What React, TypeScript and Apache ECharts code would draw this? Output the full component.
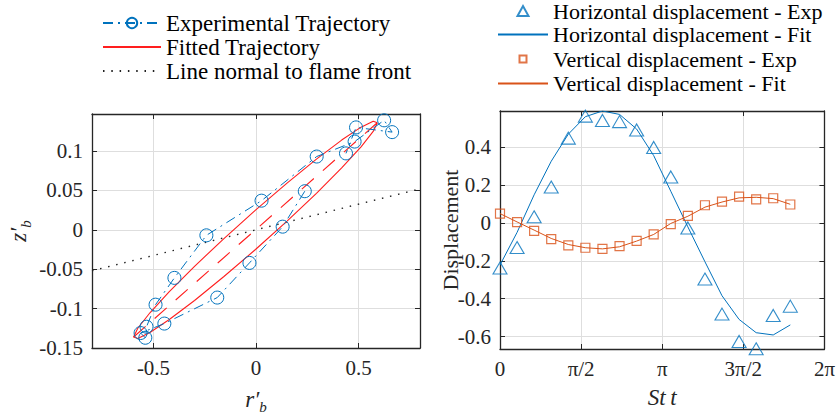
import React, { useEffect, useRef } from 'react';
import * as echarts from 'echarts';

// ---- Left panel data (r'_b, z'_b) ----
const trajR = [0.238, 0.13, -0.032, -0.189, -0.447, -0.563, -0.54, -0.534, -0.49, -0.398, -0.242, 0.027, 0.296, 0.481, 0.625, 0.664, 0.488, 0.439];
const trajZ = [0.049, 0.004, -0.042, -0.086, -0.119, -0.131, -0.137, -0.123, -0.095, -0.061, -0.007, 0.037, 0.093, 0.112, 0.139, 0.124, 0.13, 0.097];

const ellipseR = [0.592, 0.5717, 0.5124, 0.4179, 0.2948, 0.1514, -0.0025, -0.1564, -0.2998, -0.4229, -0.5174, -0.5767, -0.597, -0.5767, -0.5174, -0.4229, -0.2998, -0.1564, -0.0025, 0.1514, 0.2948, 0.4179, 0.5124, 0.5717, 0.592];
const ellipseZ = [0.136, 0.1379, 0.1303, 0.1139, 0.0897, 0.0593, 0.025, -0.0111, -0.0463, -0.0785, -0.1053, -0.1249, -0.136, -0.1379, -0.1303, -0.1139, -0.0897, -0.0593, -0.025, 0.0111, 0.0463, 0.0785, 0.1053, 0.1249, 0.136];

const majorR = [-0.597, 0.592];
const majorZ = [-0.136, 0.136];

const normalR = [-0.8, 0.8];
const normalZ = [-0.052, 0.052];

const leftXTicks = [-0.5, 0, 0.5];
const leftYLabels = [-0.15, -0.1, -0.05, 0, 0.05, 0.1];
const leftYTicks = [-0.1, -0.05, 0, 0.05, 0.1];

// ---- Right panel data (St t, displacement) ----
const stt = [0, 0.331, 0.661, 0.992, 1.323, 1.653, 1.984, 2.315, 2.646, 2.976, 3.307, 3.638, 3.969, 4.299, 4.63, 4.961, 5.291, 5.622];
const horizExp = [-0.238, -0.13, 0.032, 0.189, 0.447, 0.563, 0.54, 0.534, 0.49, 0.398, 0.242, -0.027, -0.296, -0.481, -0.625, -0.664, -0.488, -0.439];
const horizFit = [-0.222, -0.05, 0.148, 0.325, 0.468, 0.56, 0.59, 0.572, 0.495, 0.355, 0.167, -0.021, -0.205, -0.384, -0.509, -0.579, -0.591, -0.538];
const vertExp = [0.049, 0.004, -0.042, -0.086, -0.119, -0.131, -0.137, -0.123, -0.095, -0.061, -0.007, 0.037, 0.093, 0.112, 0.139, 0.124, 0.13, 0.097];
const vertFit = [0.049, 0.005, -0.038, -0.082, -0.114, -0.131, -0.137, -0.126, -0.096, -0.061, -0.003, 0.035, 0.083, 0.11, 0.132, 0.135, 0.128, 0.098];

const PI = Math.PI;
const rightXLabelValues = [0, PI / 2, PI, (3 * PI) / 2, 2 * PI];
const rightXLabelTexts = ['0', 'π/2', 'π', '3π/2', '2π'];
const rightXTicks = [PI / 2, PI, (3 * PI) / 2];
const rightYTicks = [-0.6, -0.4, -0.2, 0, 0.2, 0.4];

const BLUE = '#0072BD';
const ORANGE = '#D95319';
const RED = '#FF1E1E';
const AXIS = '#262626';
const GRIDC = '#dedede';
const CLEAR = 'rgba(255,255,255,0)';
const FONT = 'Liberation Serif';

// legend icons: invisible moveTo points fix the 50x12 icon box, the mark sits in its middle
const TRI_ICON = 'path://M0,0 M50,12 M19.5,11 L25,1 L30.5,11 Z';
const SQ_ICON = 'path://M0,0 M50,12 M21.5,2.5 L28.5,2.5 L28.5,9.5 L21.5,9.5 Z';

const zip = (a: number[], b: number[]) => a.map((v, i) => [v, b[i]]);
const fmtNum = (v: number) => String(Math.round(v * 1000) / 1000);

function axisBase(min: number, max: number, labelVals: number[], tickVals: number[], fmt: (v: number) => string) {
  return {
    type: 'value',
    min,
    max,
    axisLine: { show: true, onZero: false, lineStyle: { color: AXIS, width: 1.3 } },
    axisTick: { show: true, inside: true, length: 5, customValues: tickVals, lineStyle: { color: AXIS, width: 1 } },
    axisLabel: {
      show: true,
      customValues: labelVals,
      formatter: fmt,
      color: AXIS,
      fontFamily: FONT,
      fontSize: 21,
      margin: 9,
    },
    splitLine: { show: true, lineStyle: { color: GRIDC, width: 1 } },
    nameMoveOverlap: false,
  };
}

function mirrorAxis(gridIndex: number, position: string, min: number, max: number, tickVals: number[]) {
  return {
    type: 'value',
    gridIndex,
    position,
    min,
    max,
    axisLine: { show: true, onZero: false, lineStyle: { color: AXIS, width: 1.3 } },
    axisTick: { show: true, inside: true, length: 5, customValues: tickVals, lineStyle: { color: AXIS, width: 1 } },
    axisLabel: { show: false },
    splitLine: { show: false },
  };
}

const nameRich = {
  v: { fontFamily: FONT, fontStyle: 'italic', fontSize: 23, color: AXIS, lineHeight: 30, verticalAlign: 'middle' },
  s: { fontFamily: FONT, fontStyle: 'italic', fontSize: 15, color: AXIS, lineHeight: 16, verticalAlign: 'bottom' },
};

const legendText = { fontFamily: FONT, fontSize: 23, color: '#000', lineHeight: 24 };

function rightLegend(item: any, top: number, lineHeight: number) {
  return {
    data: [item],
    orient: 'vertical',
    left: 497,
    top,
    itemWidth: 50,
    itemHeight: 12,
    itemGap: 0,
    padding: 0,
    selectedMode: false,
    textStyle: { ...legendText, fontSize: 22, lineHeight },
  };
}

export default function App() {
  const ref = useRef<HTMLDivElement>(null);
  useEffect(() => {
    if (!ref.current) return;
    const chart = echarts.init(ref.current, null, { renderer: 'svg' });
    const option: any = {
      animation: false,
      backgroundColor: '#ffffff',
      textStyle: { fontFamily: FONT },
      grid: [
        { left: 92, right: 418, top: 114, bottom: 69 },
        { left: 500, right: 10, top: 111, bottom: 70 },
      ],
      legend: [
        {
          data: [
            'Experimental Trajectory',
            { name: 'Fitted Trajectory', lineStyle: { width: 2 } },
            'Line normal to flame front',
          ],
          orient: 'vertical',
          left: 102,
          top: 11,
          itemWidth: 58,
          itemHeight: 13,
          itemGap: 0,
          padding: 0,
          selectedMode: false,
          textStyle: legendText,
        },
        rightLegend({ name: 'Horizontal displacement - Exp', icon: TRI_ICON }, 0, 20),
        rightLegend({ name: 'Horizontal displacement - Fit', lineStyle: { width: 2 } }, 22.5, 24),
        rightLegend({ name: 'Vertical displacement - Exp', icon: SQ_ICON }, 47, 24),
        rightLegend({ name: 'Vertical displacement - Fit', lineStyle: { width: 2 } }, 71.5, 24),
      ],
      xAxis: [
        {
          ...axisBase(-0.8, 0.8, leftXTicks, leftXTicks, fmtNum),
          gridIndex: 0,
          position: 'bottom',
          name: '{v|r′}{s|b}',
          nameLocation: 'middle',
          nameGap: 36,
          nameTextStyle: { rich: nameRich },
        },
        mirrorAxis(0, 'top', -0.8, 0.8, leftXTicks),
        {
          ...axisBase(0, 2 * PI, rightXLabelValues, rightXTicks, (v: number) => {
            const i = rightXLabelValues.findIndex((x) => Math.abs(x - v) < 1e-6);
            return i >= 0 ? rightXLabelTexts[i] : '';
          }),
          gridIndex: 1,
          position: 'bottom',
          name: 'St\u2009t',
          nameLocation: 'middle',
          nameGap: 37,
          nameTextStyle: { fontFamily: FONT, fontStyle: 'italic', fontSize: 23, color: AXIS },
        },
        mirrorAxis(1, 'top', 0, 2 * PI, rightXTicks),
      ],
      yAxis: [
        {
          ...axisBase(-0.15, 0.147, leftYLabels, leftYTicks, fmtNum),
          gridIndex: 0,
          position: 'left',
          name: '{v|z′}{s|b}',
          nameLocation: 'middle',
          nameGap: 59,
          nameTextStyle: { rich: nameRich },
        },
        mirrorAxis(0, 'right', -0.15, 0.147, leftYTicks),
        {
          ...axisBase(-0.665, 0.59, rightYTicks, rightYTicks, fmtNum),
          gridIndex: 1,
          position: 'left',
          name: 'Displacement',
          nameLocation: 'middle',
          nameGap: 39,
          nameTextStyle: { fontFamily: FONT, fontSize: 22, color: AXIS },
        },
        mirrorAxis(1, 'right', -0.665, 0.59, rightYTicks),
      ],
      series: [
        {
          name: 'Line normal to flame front',
          type: 'line',
          xAxisIndex: 0,
          yAxisIndex: 0,
          data: zip(normalR, normalZ),
          symbol: 'none',
          lineStyle: { color: '#222', width: 1.4, type: [1.5, 6.8] },
          itemStyle: { color: CLEAR, borderColor: CLEAR },
          z: 2,
        },
        {
          name: 'Fitted Trajectory',
          type: 'line',
          xAxisIndex: 0,
          yAxisIndex: 0,
          data: zip(ellipseR, ellipseZ),
          symbol: 'none',
          lineStyle: { color: RED, width: 1.1 },
          itemStyle: { color: CLEAR, borderColor: CLEAR },
          z: 3,
        },
        {
          name: 'fitAxis',
          type: 'line',
          xAxisIndex: 0,
          yAxisIndex: 0,
          data: zip(majorR, majorZ),
          symbol: 'none',
          lineStyle: { color: RED, width: 1.1, type: [16, 12] },
          itemStyle: { color: CLEAR, borderColor: CLEAR },
          z: 3,
        },
        {
          name: 'Experimental Trajectory',
          type: 'line',
          xAxisIndex: 0,
          yAxisIndex: 0,
          data: zip(trajR, trajZ),
          symbol: 'circle',
          symbolSize: 13,
          showAllSymbol: true,
          lineStyle: { color: BLUE, width: 1, type: [10, 5, 2, 5] },
          itemStyle: { color: CLEAR, borderColor: BLUE, borderWidth: 1 },
          z: 4,
        },
        {
          name: 'Horizontal displacement - Exp',
          type: 'scatter',
          xAxisIndex: 2,
          yAxisIndex: 2,
          data: zip(stt, horizExp),
          symbol: 'triangle',
          symbolSize: [14, 12],
          itemStyle: { color: CLEAR, borderColor: BLUE, borderWidth: 1.1 },
          z: 4,
        },
        {
          name: 'Horizontal displacement - Fit',
          type: 'line',
          xAxisIndex: 2,
          yAxisIndex: 2,
          data: zip(stt, horizFit),
          symbol: 'none',
          lineStyle: { color: BLUE, width: 1 },
          itemStyle: { color: CLEAR, borderColor: CLEAR },
          z: 3,
        },
        {
          name: 'Vertical displacement - Exp',
          type: 'scatter',
          xAxisIndex: 2,
          yAxisIndex: 2,
          data: zip(stt, vertExp),
          symbol: 'rect',
          symbolSize: 9,
          itemStyle: { color: CLEAR, borderColor: ORANGE, borderWidth: 1.2 },
          z: 4,
        },
        {
          name: 'Vertical displacement - Fit',
          type: 'line',
          xAxisIndex: 2,
          yAxisIndex: 2,
          data: zip(stt, vertFit),
          symbol: 'none',
          lineStyle: { color: ORANGE, width: 1 },
          itemStyle: { color: CLEAR, borderColor: CLEAR },
          z: 3,
        },
      ],
    };
    chart.setOption(option);
    return () => chart.dispose();
  }, []);
  return <div ref={ref} style={{ position: 'fixed', left: 0, top: 0, width: 838, height: 419 }} />;
}
